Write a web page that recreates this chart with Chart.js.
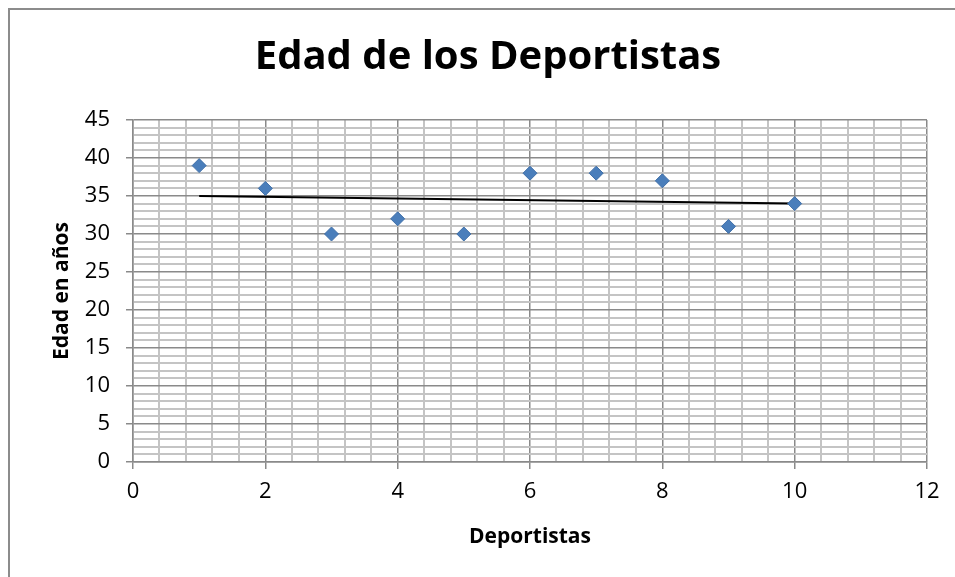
<!DOCTYPE html>
<html>
<head>
<meta charset="utf-8">
<script src="https://cdn.jsdelivr.net/npm/chart.js@4"></script>
<style>
  html, body { margin: 0; padding: 0; background: #fff; }
  #wrap { position: relative; width: 955px; height: 577px; overflow: hidden; }
  #frame {
    position: absolute; left: 8px; top: 8px; width: 1000px; height: 1000px;
    border-top: 2px solid #8c8c8c; border-left: 2px solid #8c8c8c;
  }
  canvas { position: absolute; left: 0; top: 0; }
</style>
</head>
<body>
<div id="wrap">
  <div id="frame"></div>
  <canvas id="chart" width="955" height="577"></canvas>
</div>
<script>
const athletes = [1, 2, 3, 4, 5, 6, 7, 8, 9, 10];
const ages     = [39, 36, 30, 32, 30, 38, 38, 37, 31, 34];

// trend line end points
const trendX = [1, 10];
const trendY = [35, 34];

const xTicks = [0, 2, 4, 6, 8, 10, 12];
const yTicks = [0, 5, 10, 15, 20, 25, 30, 35, 40, 45];

const FONT = '"Open Sans", Lato, sans-serif';

const isMajor = (v, list) => list.some(t => Math.abs(t - v) < 1e-6);

const gridFor = list => ({
  color:     c => isMajor(c.tick.value, list) ? '#8a8a8a' : '#c4c4c4',
  lineWidth: c => isMajor(c.tick.value, list) ? 1.5 : 2,
  tickColor: c => isMajor(c.tick.value, list) ? '#8a8a8a' : 'rgba(0,0,0,0)',
  tickLength: 7,
  tickWidth: 1.5,
});

new Chart(document.getElementById('chart'), {
  type: 'scatter',
  data: {
    datasets: [
      {
        label: 'Edad',
        data: athletes.map((x, i) => ({ x, y: ages[i] })),
        pointStyle: 'rectRot',
        pointRadius: 7,
        backgroundColor: '#4a7ebb',
        borderColor: '#3f6fa8',
        borderWidth: 1,
      },
      {
        label: 'Tendencia',
        type: 'line',
        data: trendX.map((x, i) => ({ x, y: trendY[i] })),
        borderColor: '#000',
        borderWidth: 2,
        pointRadius: 0,
        fill: false,
      },
    ],
  },
  options: {
    responsive: false,
    animation: false,
    layout: { padding: { left: 49, right: 28, top: 10, bottom: 20 } },
    plugins: {
      legend: { display: false },
      tooltip: { enabled: false },
      title: {
        display: true,
        text: 'Edad de los Deportistas',
        color: '#000',
        font: { family: FONT, size: 40, weight: 'bold' },
        padding: { top: 24, bottom: 38 },
      },
    },
    scales: {
      x: {
        type: 'linear',
        min: 0, max: 12,
        ticks: {
          stepSize: 0.4,
          autoSkip: false,
          maxRotation: 0,
          color: '#000',
          font: { family: FONT, size: 22 },
          padding: 10,
          callback: v => isMajor(v, xTicks) ? String(Math.round(v)) : '',
        },
        grid: gridFor(xTicks),
        border: { color: '#8a8a8a', width: 1.5 },
        title: {
          display: true,
          text: 'Deportistas',
          color: '#000',
          font: { family: FONT, size: 21, weight: 'bold' },
          padding: { top: 0, bottom: 7 },
        },
        afterFit: s => { s.height = 577 - 462 - 20; },
      },
      y: {
        type: 'linear',
        min: 0, max: 45,
        ticks: {
          stepSize: 1,
          autoSkip: false,
          color: '#000',
          font: { family: FONT, size: 22 },
          padding: 16,
          callback: v => isMajor(v, yTicks) ? String(v) : '',
        },
        grid: gridFor(yTicks),
        border: { color: '#8a8a8a', width: 1.5 },
        title: {
          display: true,
          text: 'Edad en años',
          color: '#000',
          font: { family: FONT, size: 21, weight: 'bold' },
          padding: { top: 0, bottom: 0 },
        },
        afterFit: s => { s.width = 133 - 49; },
      },
    },
  },
});
</script>
</body>
</html>
